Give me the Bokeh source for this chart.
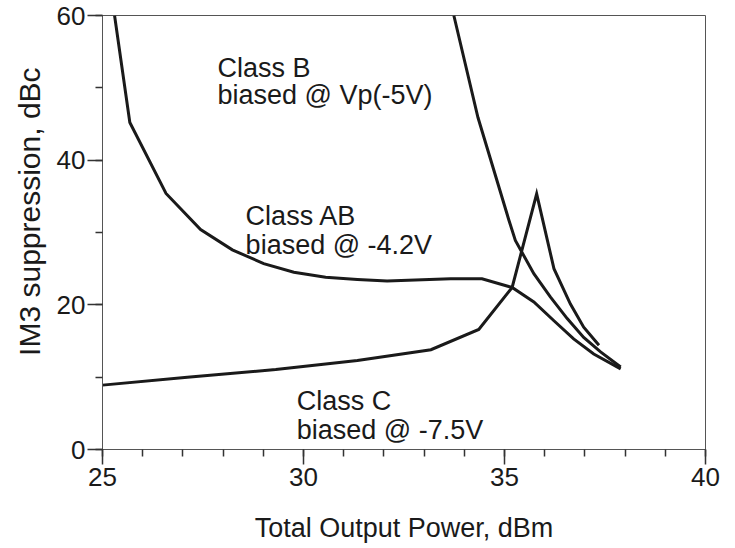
from bokeh.plotting import figure
from bokeh.models import Range1d, SingleIntervalTicker, Label
from bokeh.embed import file_html
from bokeh.resources import INLINE

# Class AB biased @ -4.2V
ab_x = [25.30, 25.68, 26.58, 27.44, 28.23, 29.01, 29.76, 30.55, 31.34, 32.08, 33.66, 34.44, 35.19, 35.73, 36.23, 36.72, 37.22, 37.89]
ab_y = [60.0, 45.2, 35.4, 30.4, 27.6, 25.7, 24.5, 23.8, 23.5, 23.3, 23.6, 23.6, 22.4, 20.4, 17.8, 15.3, 13.2, 11.15]

# Class B biased @ Vp(-5V)
b_x = [33.74, 34.34, 35.11, 35.27, 35.73, 36.14, 36.56, 36.97, 37.39, 37.89]
b_y = [60.0, 45.9, 31.7, 28.9, 24.3, 21.1, 18.1, 15.5, 13.5, 11.4]

# Class C biased @ -7.5V
c_x = [25.0, 27.11, 29.31, 31.34, 33.17, 34.36, 35.19, 35.80, 36.23, 36.64, 36.97, 37.35]
c_y = [8.9, 10.0, 11.06, 12.3, 13.8, 16.6, 22.4, 35.35, 25.0, 20.1, 16.9, 14.4]

# annotation labels (two lines each)
label_lines_1 = ["Class B", "Class AB", "Class C"]
label_lines_2 = ["biased @ Vp(-5V)", "biased @ -4.2V", "biased @ -7.5V"]
label_x = [27.86, 28.56, 29.83]
label_y1 = [52.8, 32.35, 6.77]
label_y2 = [49.0, 28.3, 2.72]

x_title = "Total Output Power, dBm"
y_title = "IM3 suppression, dBc"

FONT = "Liberation Sans"
GREY = "#555555"
TICK = "#333333"
INK = "#1a1a1a"

p = figure(width=735, height=548, output_backend="svg", toolbar_location=None,
           x_range=Range1d(25, 40), y_range=Range1d(0, 60),
           min_border_left=102, min_border_right=30, min_border_top=15, min_border_bottom=99)

p.xgrid.visible = False
p.ygrid.visible = False
p.outline_line_color = GREY
p.outline_line_width = 1
p.background_fill_color = "white"
p.border_fill_color = "white"

p.xaxis.ticker = SingleIntervalTicker(interval=5, num_minor_ticks=5)
p.yaxis.ticker = SingleIntervalTicker(interval=20, num_minor_ticks=2)

p.axis.axis_line_color = GREY
p.axis.axis_line_width = 1
p.axis.major_tick_line_color = TICK
p.axis.major_tick_line_width = 1.5
p.axis.minor_tick_line_color = TICK
p.axis.minor_tick_line_width = 1.5
p.axis.major_tick_in = 0
p.axis.major_tick_out = 15
p.axis.minor_tick_in = 0
p.axis.minor_tick_out = 7
p.axis.major_label_text_font = FONT
p.axis.major_label_text_font_size = "26px"
p.axis.major_label_text_color = INK
p.axis.axis_label_text_font = FONT
p.axis.axis_label_text_font_style = "normal"
p.axis.axis_label_text_color = INK

p.xaxis.axis_label = x_title
p.xaxis.axis_label_text_font_size = "27px"
p.xaxis.major_label_standoff = 3
p.xaxis.axis_label_standoff = 24

# leading no-break spaces lift the rotated title a little above the frame centre
p.yaxis.axis_label = "\u00a0" * 5 + y_title
p.yaxis.axis_label_text_font_size = "30px"
p.yaxis.major_label_standoff = 2
p.yaxis.axis_label_standoff = 8

for xs, ys in ((ab_x, ab_y), (b_x, b_y), (c_x, c_y)):
    p.line(xs, ys, line_color=INK, line_width=3, line_join="miter")

for i in range(len(label_x)):
    for txt, yy in ((label_lines_1[i], label_y1[i]), (label_lines_2[i], label_y2[i])):
        p.add_layout(Label(x=label_x[i], y=yy, text=txt, text_font=FONT,
                           text_font_size="27px", text_color=INK,
                           text_baseline="alphabetic", text_align="left"))

open("out.html", "w").write(file_html(p, INLINE))
